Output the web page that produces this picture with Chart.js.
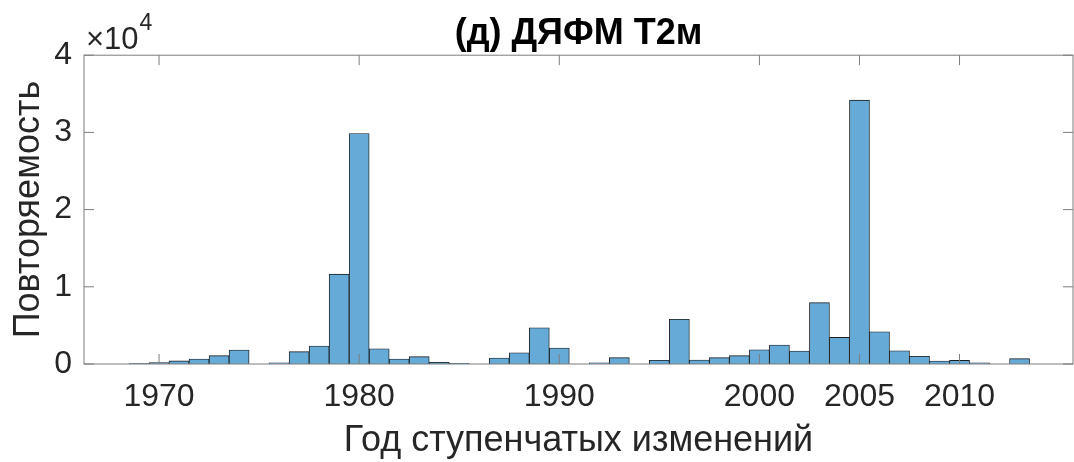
<!DOCTYPE html>
<html>
<head>
<meta charset="utf-8">
<script src="https://cdn.jsdelivr.net/npm/chart.js@4/dist/chart.umd.min.js"></script>
<style>
  html, body { margin: 0; padding: 0; background: #fff; }
</style>
</head>
<body>
<canvas id="hist" width="1074" height="462"></canvas>
<script>
'use strict';

// Histogram bins (year of step change) and their counts.
var years = [1969, 1970, 1971, 1972, 1973, 1974, 1975, 1976, 1977, 1978,
             1979, 1980, 1981, 1982, 1983, 1984, 1985, 1986, 1987, 1988,
             1989, 1990, 1991, 1992, 1993, 1994, 1995, 1996, 1997, 1998,
             1999, 2000, 2001, 2002, 2003, 2004, 2005, 2006, 2007, 2008,
             2009, 2010, 2011, 2012, 2013];
var counts = [40, 200, 400, 650, 1080, 1810, 0, 150, 1600, 2330,
              11650, 29860, 1980, 650, 950, 220, 100, 0, 780, 1460,
              4700, 2070, 0, 150, 820, 0, 480, 5790, 520, 820,
              1080, 1850, 2460, 1680, 7940, 3450, 34180, 4180, 1720, 1000,
              390, 470, 150, 0, 690];

var xTicks = [1970, 1980, 1990, 2000, 2005, 2010];
var yTicks = [0, 10000, 20000, 30000, 40000];

var FONT = "'Liberation Sans', Arial, sans-serif";
var INK = '#262626';

// MATLAB style box: full frame, ticks pointing inward, drawn over the bars.
var axesBox = {
  id: 'axesBox',
  afterDatasetsDraw: function(chart) {
    var ctx = chart.ctx;
    var a = chart.chartArea;
    var xs = chart.scales.x;
    var ys = chart.scales.y;
    var len = 10;

    ctx.save();
    ctx.strokeStyle = '#7d7d7d';
    ctx.lineWidth = 1;
    ctx.strokeRect(a.left, a.top, a.right - a.left, a.bottom - a.top);

    ctx.beginPath();
    xTicks.forEach(function(t) {
      var px = xs.getPixelForValue(t);
      ctx.moveTo(px, a.bottom);
      ctx.lineTo(px, a.bottom - len);
      ctx.moveTo(px, a.top);
      ctx.lineTo(px, a.top + len);
    });
    yTicks.forEach(function(t) {
      var py = ys.getPixelForValue(t);
      ctx.moveTo(a.left, py);
      ctx.lineTo(a.left + len, py);
      ctx.moveTo(a.right, py);
      ctx.lineTo(a.right - len, py);
    });
    ctx.stroke();

    // exponent label of the y axis
    ctx.fillStyle = INK;
    ctx.textBaseline = 'alphabetic';
    ctx.textAlign = 'left';
    ctx.font = '31px ' + FONT;
    ctx.fillText('\u00d710', a.left + 2, 49);
    var w = ctx.measureText('\u00d710').width;
    ctx.font = '23px ' + FONT;
    ctx.fillText('4', a.left + 3 + w, 30);
    ctx.restore();
  }
};

new Chart(document.getElementById('hist').getContext('2d'), {
  type: 'bar',
  data: {
    datasets: [{
      data: years.map(function(y, i) { return { x: y, y: counts[i] }; }),
      backgroundColor: '#66aad7',
      borderColor: '#1a1a1a',
      borderWidth: 0.9,
      barPercentage: 1,
      categoryPercentage: 1
    }]
  },
  options: {
    responsive: false,
    animation: false,
    devicePixelRatio: 1,
    layout: { padding: { top: 0, right: 1, bottom: 0, left: 0 } },
    plugins: {
      legend: { display: false },
      tooltip: { enabled: false },
      title: {
        display: true,
        fullSize: false,
        text: '(д) ДЯФМ Т2м',
        color: '#000',
        font: { family: FONT, size: 36, weight: 'bold', lineHeight: 1.2 },
        padding: { top: 12, bottom: 0 }
      }
    },
    scales: {
      x: {
        type: 'linear',
        offset: false,
        min: 1966.25,
        max: 2015.67,
        grid: { display: false, drawTicks: false },
        border: { display: false },
        afterBuildTicks: function(scale) {
          scale.ticks = xTicks.map(function(v) { return { value: v }; });
        },
        afterFit: function(scale) { scale.height = 98; },
        ticks: {
          color: INK,
          padding: 14,
          maxRotation: 0,
          autoSkip: false,
          font: { family: FONT, size: 32 },
          callback: function(v) { return String(v); }
        },
        title: {
          display: true,
          text: 'Год ступенчатых изменений',
          color: INK,
          font: { family: FONT, size: 36, lineHeight: 1.2 },
          padding: { top: 0, bottom: -1 }
        }
      },
      y: {
        min: 0,
        max: 40000,
        grid: { display: false, drawTicks: false },
        border: { display: false },
        afterBuildTicks: function(scale) {
          scale.ticks = yTicks.map(function(v) { return { value: v }; });
        },
        afterFit: function(scale) { scale.width = 84; },
        ticks: {
          color: INK,
          padding: 12,
          font: { family: FONT, size: 32 },
          callback: function(v) { return String(v / 10000); }
        },
        title: {
          display: true,
          text: 'Повторяемость',
          color: INK,
          font: { family: FONT, size: 36, lineHeight: 1.2 },
          padding: { top: 7, bottom: 0 }
        }
      }
    }
  },
  plugins: [axesBox]
});
</script>
</body>
</html>
